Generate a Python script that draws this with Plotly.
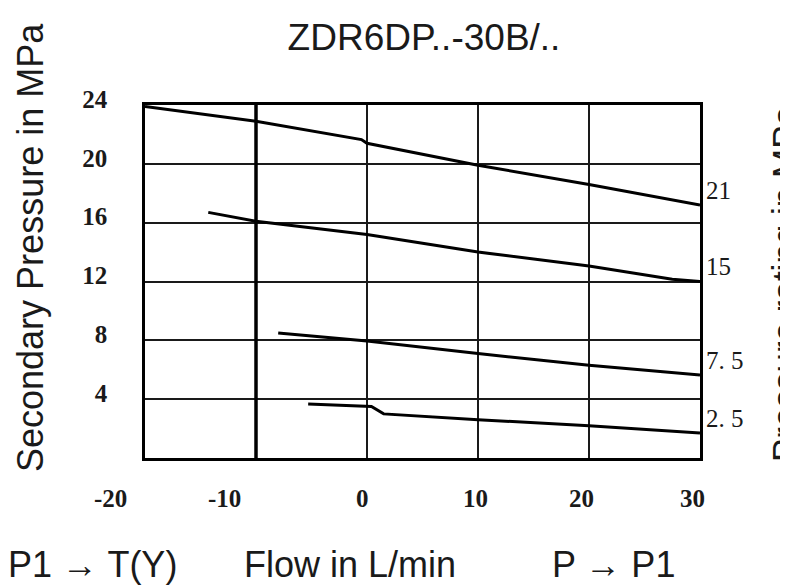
import plotly.graph_objects as go

# ---------------- data ----------------
flow_21 = [-20, -10, -0.5, 0, 10, 20, 30]
pres_21 = [23.9, 22.9, 21.65, 21.4, 19.9, 18.6, 17.2]

flow_15 = [-14.3, -10, 0, 10, 20, 27.5, 30]
pres_15 = [16.7, 16.1, 15.2, 14.0, 13.05, 12.15, 12.0]

flow_75 = [-8.0, 0, 10, 20, 30]
pres_75 = [8.5, 7.95, 7.1, 6.3, 5.64]

flow_25 = [-5.3, 0.4, 1.5, 10, 20, 30]
pres_25 = [3.67, 3.5, 3.0, 2.6, 2.2, 1.7]

rating_labels = ["21", "15", "7. 5", "2. 5"]

x_grid = [-20, -10, 0, 10, 20, 30]
x_tick_text = ["-20", "-10", "0", "10", "20", "30"]
x_tick_pos = [-23.15, -12.8, -0.45, 9.8, 19.3, 29.3]
y_ticks = [4, 8, 12, 16, 20, 24]
y_tick_text = ["4", "8", "12", "16", "20", "24"]

title_text = "ZDR6DP..-30B/.."
y_title = "Secondary Pressure in MPa"
y2_title = "Pressure rating in MPa"
x_title = "Flow in L/min"
left_dir = "P1 → T(Y)"
right_dir = "P → P1"

# ---------------- layout constants ----------------
W, H = 788, 588
ML, MR, MT, MB = 137, 96, 97, 138
PW = W - ML - MR
PH = H - MT - MB
X0, X1 = x_grid[0], x_grid[-1]

def px_x(px):
    return (px - ML) / PW

def px_y(py):
    return (H - MB - py) / PH

def data_x_to_paper(v):
    # same linear mapping as the x axis (domain [0, 1])
    return (v - X0) / (X1 - X0)

SERIF = "Liberation Serif"
SANS = "Liberation Sans, Arial, sans-serif"
TXT = "#1a1a1a"

fig = go.Figure()
series = [(flow_21, pres_21), (flow_15, pres_15), (flow_75, pres_75), (flow_25, pres_25)]
for fx, py in series:
    fig.add_trace(go.Scatter(x=fx, y=py, mode="lines",
                             line=dict(color="black", width=3),
                             showlegend=False, hoverinfo="skip"))

annotations = []
# curve rating labels at right
for (fx, py), lab in zip(series, rating_labels):
    annotations.append(dict(x=fx[-1], y=py[-1], xref="x", yref="y", text=lab,
                            showarrow=False, xanchor="left", yanchor="middle",
                            xshift=4, yshift=15,
                            font=dict(family=SERIF, size=25, color=TXT)))
# x tick labels
for xv, t in zip(x_tick_pos, x_tick_text):
    annotations.append(dict(x=data_x_to_paper(xv), y=px_y(490), xref="paper", yref="paper",
                            text="<b>" + t + "</b>",
                            showarrow=False, xanchor="center", yanchor="middle",
                            font=dict(family=SERIF, size=25, color=TXT)))
# bottom texts
for t, cx in [(left_dir, 84), (x_title, 342), (right_dir, 605)]:
    annotations.append(dict(x=px_x(cx), y=px_y(556), xref="paper", yref="paper", text=t,
                            showarrow=False, xanchor="center", yanchor="middle",
                            font=dict(family=SANS, size=36, color=TXT)))
# left axis title
annotations.append(dict(x=px_x(22), y=px_y(240), xref="paper", yref="paper", text=y_title,
                        showarrow=False, textangle=-90, xanchor="center", yanchor="middle",
                        font=dict(family=SANS, size=36, color=TXT)))
# right axis title (cut by the edge, as in the source)
annotations.append(dict(x=px_x(776), y=px_y(276), xref="paper", yref="paper", text=y2_title,
                        showarrow=False, textangle=-90, xanchor="center", yanchor="middle",
                        font=dict(family=SANS, size=35, color=TXT)))

fig.update_layout(
    width=W, height=H,
    margin=dict(l=ML, r=MR, t=MT, b=MB),
    paper_bgcolor="white", plot_bgcolor="white",
    title=dict(text=title_text, x=416 / W, xref="container", xanchor="center",
               y=1 - 29 / H, yref="container", yanchor="middle",
               font=dict(family=SANS, size=37, color=TXT)),
    annotations=annotations,
    shapes=[dict(type="line", xref="x", yref="paper", x0=x_grid[1], x1=x_grid[1],
                 y0=0, y1=1, line=dict(color="black", width=3.5))],
    xaxis=dict(range=[X0, X1], tickvals=x_grid, showticklabels=False,
               ticks="", showgrid=True, gridcolor="#1a1a1a", gridwidth=1.6,
               showline=True, mirror=True, linecolor="black", linewidth=2.5,
               zeroline=False, fixedrange=True),
    yaxis=dict(range=[0, 24], tickvals=y_ticks,
               ticktext=["<b>" + t + "</b>" for t in y_tick_text], ticks="",
               showgrid=True, gridcolor="#1a1a1a", gridwidth=1.6,
               showline=True, mirror=True, linecolor="black", linewidth=2.5,
               zeroline=False, ticklabelstandoff=30, ticklabelshift=-6,
               tickfont=dict(family=SERIF, size=25, color=TXT), fixedrange=True),
)

fig.write_html("out.html")
